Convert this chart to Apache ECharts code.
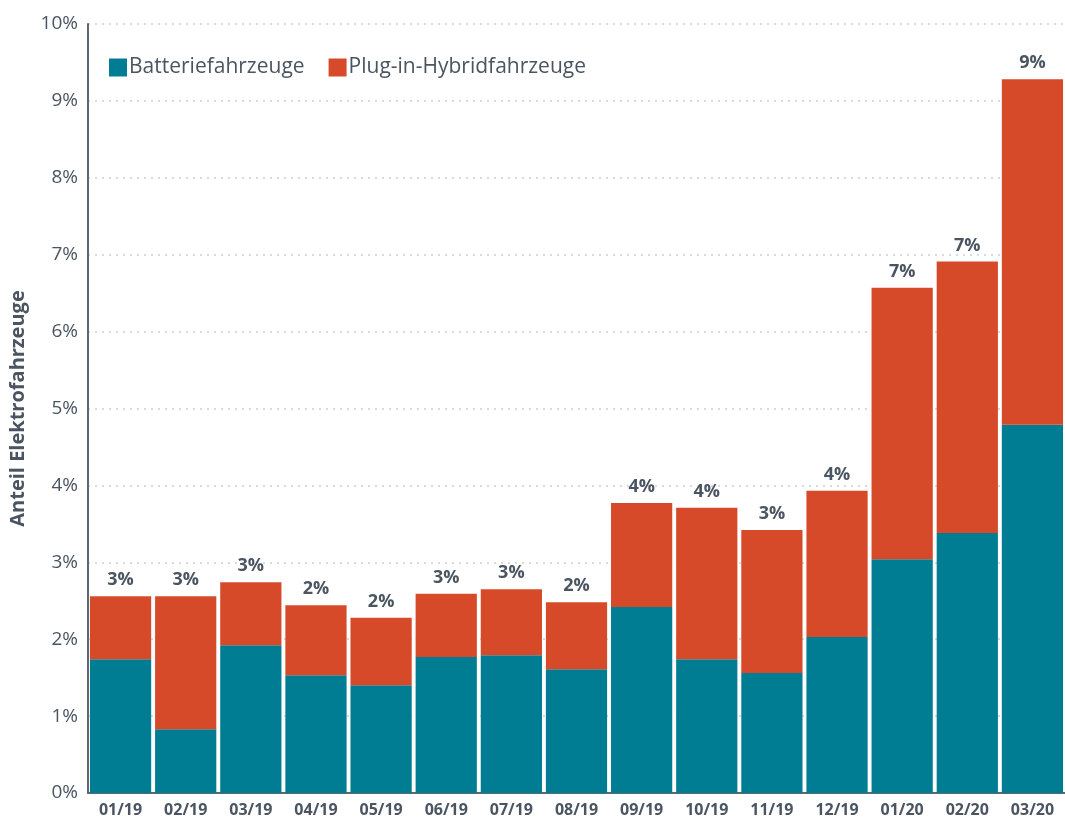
<!DOCTYPE html>
<html>
<head>
<meta charset="utf-8">
<script src="https://cdn.jsdelivr.net/npm/echarts@6/dist/echarts.min.js"></script>
<style>
    html, body { margin: 0; padding: 0; background: #fff; }
    #chart { width: 1065px; height: 821px; }
</style>
</head>
<body>
<div id="chart"></div>
<script>
    // Monate
    const months = ['01/19', '02/19', '03/19', '04/19', '05/19', '06/19', '07/19', '08/19',
        '09/19', '10/19', '11/19', '12/19', '01/20', '02/20', '03/20'];
    // Anteil Batteriefahrzeuge (%)
    const bev = [1.74, 0.83, 1.92, 1.53, 1.40, 1.77, 1.79, 1.61, 2.42, 1.74, 1.56, 2.03, 3.04, 3.38, 4.79];
    // Anteil Plug-in-Hybride (%)
    const phev = [0.82, 1.73, 0.82, 0.91, 0.88, 0.82, 0.86, 0.87, 1.35, 1.97, 1.86, 1.90, 3.53, 3.53, 4.49];
    const yTicks = [0, 1, 2, 3, 4, 5, 6, 7, 8, 9, 10];

    const totals = bev.map((v, i) => v + phev[i]);
    const textColor = '#4a5561';
    const font = '"Open Sans", sans-serif';

    const chart = echarts.init(document.getElementById('chart'));
    chart.setOption({
        animation: false,
        grid: { left: 84, right: 0, top: 24, bottom: 28 },
        legend: {
            left: 104,
            top: 52,
            itemWidth: 18,
            itemHeight: 18,
            itemGap: 24,
            icon: 'rect',
            textStyle: { color: textColor, fontSize: 21, fontFamily: font, padding: [0, 0, 0, -3] },
            data: ['Batteriefahrzeuge', 'Plug-in-Hybridfahrzeuge']
        },
        xAxis: {
            type: 'category',
            data: months,
            axisLine: { lineStyle: { color: '#5f6770', width: 2 } },
            axisTick: { show: false },
            axisLabel: { color: textColor, fontSize: 16, fontWeight: 'bold', fontFamily: font, margin: 9 }
        },
        yAxis: {
            type: 'value',
            min: yTicks[0],
            max: yTicks[yTicks.length - 1],
            interval: 1,
            name: 'Anteil Elektrofahrzeuge',
            nameLocation: 'middle',
            nameGap: 60,
            nameTextStyle: { color: textColor, fontSize: 20, fontWeight: 'bold', fontFamily: font },
            axisLine: { show: true, lineStyle: { color: '#5f6770', width: 2 } },
            axisTick: { show: false },
            axisLabel: { color: textColor, fontSize: 19, fontFamily: font, margin: 10, formatter: '{value}%' },
            splitLine: { lineStyle: { color: '#cfcfcf', type: [2, 5], width: 1.5 } }
        },
        series: [
            {
                name: 'Batteriefahrzeuge',
                type: 'bar',
                stack: 'ev',
                barCategoryGap: '6%',
                itemStyle: { color: '#007d92' },
                data: bev
            },
            {
                name: 'Plug-in-Hybridfahrzeuge',
                type: 'bar',
                stack: 'ev',
                itemStyle: { color: '#d64a29' },
                label: {
                    show: true,
                    position: 'top',
                    distance: 7,
                    color: textColor,
                    fontSize: 18,
                    fontWeight: 'bold',
                    fontFamily: font,
                    formatter: p => Math.round(totals[p.dataIndex]) + '%'
                },
                data: phev
            }
        ]
    });
</script>
</body>
</html>
